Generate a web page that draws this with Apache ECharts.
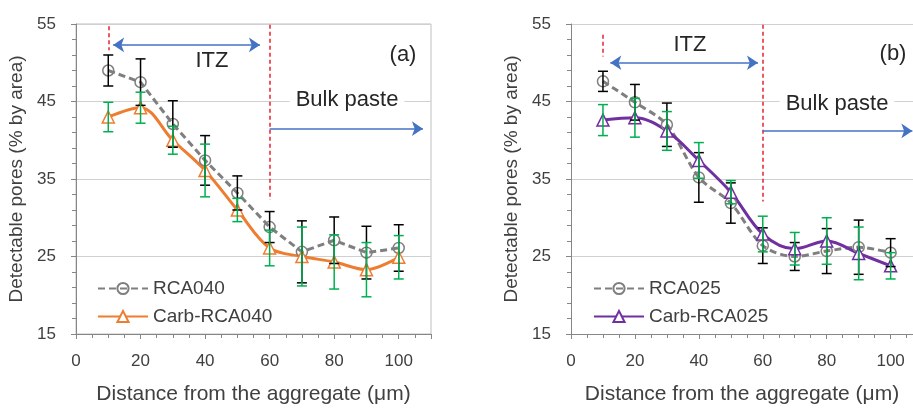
<!DOCTYPE html>
<html>
<head>
<meta charset="utf-8">
<script src="https://cdn.jsdelivr.net/npm/echarts@6/dist/echarts.min.js"></script>
<style>
html,body{margin:0;padding:0;background:#fff;overflow:hidden;}
#chart{width:913px;height:410px;}
</style>
</head>
<body>
<div id="chart"></div>
<script>
// ---- data ----
var distance = [10, 20, 30, 40, 50, 60, 70, 80, 90, 100];
var rca040 = [49.0, 47.5, 42.1, 37.4, 33.2, 28.8, 25.6, 27.1, 25.5, 26.1];
var rca040Err = [2.0, 3.0, 3.0, 3.2, 2.2, 2.0, 4.0, 3.0, 3.4, 3.0];
var carb040 = [43.0, 44.2, 40.0, 36.1, 31.0, 26.1, 25.0, 24.3, 23.3, 24.9];
var carb040Err = [1.9, 2.0, 1.8, 3.4, 1.5, 2.3, 3.8, 3.5, 3.5, 2.8];
var rca025 = [47.6, 44.9, 42.0, 35.2, 31.9, 26.4, 25.0, 25.7, 26.2, 25.5];
var rca025Err = [1.3, 2.3, 2.8, 3.2, 2.6, 2.3, 1.8, 2.9, 3.5, 1.8];
var carb025 = [42.6, 42.9, 41.2, 37.4, 33.3, 27.9, 26.0, 27.0, 25.4, 23.8];
var carb025Err = [2.0, 2.5, 2.5, 2.3, 1.5, 2.3, 2.1, 3.0, 3.4, 1.7];
var xTicks = [0, 20, 40, 60, 80, 100];
var yTicks = [15, 25, 35, 45, 55];

var FONT = '"Liberation Sans", Arial, sans-serif';
var GRAY = '#7f7f7f', ORANGE = '#ED7D31', PURPLE = '#7030A0', GREEN = '#00B050', BLUE = '#4472C4', RED = '#E8212E';

function pts(vals){ return distance.map(function(d,i){ return [d, vals[i]]; }); }
function errs(vals, e){ return distance.map(function(d,i){ return [d, vals[i]-e[i], vals[i]+e[i]]; }); }

function errSeries(name, vals, e, color, idx){
  return {
    type: 'custom', name: name + ' err', xAxisIndex: idx, yAxisIndex: idx, z: 4, silent: true,
    encode: {x: 0, y: [1, 2]},
    data: errs(vals, e),
    renderItem: function(params, api){
      var lo = api.coord([api.value(0), api.value(1)]);
      var hi = api.coord([api.value(0), api.value(2)]);
      var w = 5;
      var st = {stroke: color, lineWidth: 1.5};
      return {type: 'group', children: [
        {type: 'line', shape: {x1: lo[0], y1: lo[1], x2: hi[0], y2: hi[1]}, style: st},
        {type: 'line', shape: {x1: lo[0]-w, y1: lo[1], x2: lo[0]+w, y2: lo[1]}, style: st},
        {type: 'line', shape: {x1: hi[0]-w, y1: hi[1], x2: hi[0]+w, y2: hi[1]}, style: st}
      ]};
    }
  };
}

function seg(x1, y1, x2, y2, color, dashed, arrows){
  return [
    {coord: [x1, y1], symbol: arrows === 'both' ? 'arrow' : 'none', lineStyle: {color: color, type: dashed ? [4, 3] : 'solid', width: 1.5}},
    {coord: [x2, y2], symbol: arrows ? 'arrow' : 'none'}
  ];
}

function xAxis(idx, max){
  return {
    type: 'value', gridIndex: idx, min: 0, max: max, interval: 20,
    axisLine: {lineStyle: {color: '#868686', width: 1}},
    axisTick: {show: true, length: 5, lineStyle: {color: '#868686'}},
    minorTick: {show: true, splitNumber: 4, length: 4, lineStyle: {color: '#868686'}},
    splitLine: {show: false},
    axisLabel: {showMaxLabel: false, color: '#404040', fontSize: 17, fontFamily: FONT, margin: 19},
    name: 'Distance from the aggregate (\u03bcm)', nameLocation: 'middle', nameGap: 50,
    nameTextStyle: {color: '#404040', fontSize: 21, fontFamily: FONT}
  };
}
function yAxis(idx){
  return {
    type: 'value', gridIndex: idx, min: 15, max: 55, interval: 10,
    axisLine: {show: true, lineStyle: {color: '#868686', width: 1}},
    axisTick: {show: true, length: 5, lineStyle: {color: '#868686'}},
    minorTick: {show: true, splitNumber: 5, length: 4, lineStyle: {color: '#868686'}},
    splitLine: {show: true, lineStyle: {color: '#d0d0d0', width: 1}},
    axisLabel: {color: '#404040', fontSize: 17, fontFamily: FONT, margin: 20},
    name: 'Detectable pores (% by area)', nameLocation: 'middle', nameGap: 50,
    nameTextStyle: {color: '#404040', fontSize: 19, fontFamily: FONT}
  };
}

function txt(x, y, s){
  return {type: 'text', x: x, y: y, z: 10, style: {text: s, font: '22px ' + FONT, fill: '#262626', align: 'center', verticalAlign: 'middle',
    backgroundColor: '#fff', padding: [2, 6]}};
}

var option = {
  animation: false,
  backgroundColor: '#fff',
  grid: [
    {left: 76, top: 24, width: 355, height: 315, show: true, borderColor: '#bfbfbf', borderWidth: 1, backgroundColor: 'transparent'},
    {left: 571, top: 24, width: 342, height: 315, show: false}
  ],
  xAxis: [xAxis(0, 110), xAxis(1, 107)],
  yAxis: [yAxis(0), yAxis(1)],
  legend: [
    {data: ['RCA040', 'Carb-RCA040'], orient: 'vertical', left: 92, top: 274, itemWidth: 50, itemHeight: 14, itemGap: 9,
     textStyle: {color: '#404040', fontSize: 19, fontFamily: FONT}, selectedMode: false},
    {data: ['RCA025', 'Carb-RCA025'], orient: 'vertical', left: 588, top: 274, itemWidth: 50, itemHeight: 14, itemGap: 9,
     textStyle: {color: '#404040', fontSize: 19, fontFamily: FONT}, selectedMode: false}
  ],
  series: [
    {
      type: 'line', name: 'RCA040', xAxisIndex: 0, yAxisIndex: 0, data: pts(rca040), z: 3,
      lineStyle: {color: GRAY, width: 3, type: [7, 4]}, itemStyle: {color: 'rgba(255,255,255,0)', borderColor: GRAY, borderWidth: 1.5},
      symbol: 'circle', symbolSize: 11, showAllSymbol: true,
      markLine: {silent: true, symbolSize: [11, 11], label: {show: false}, animation: false,
        data: [
          seg(10, 54.7, 10, 51.6, RED, true, false),
          seg(60, 54.9, 60, 32.3, RED, true, false),
          seg(11.5, 52.3, 57, 52.3, BLUE, false, 'both'),
          seg(60, 41.5, 107.5, 41.5, BLUE, false, 'end')
        ]}
    },
    {
      type: 'line', name: 'Carb-RCA040', xAxisIndex: 0, yAxisIndex: 0, data: pts(carb040), smooth: 0.35, z: 3,
      lineStyle: {color: ORANGE, width: 3}, itemStyle: {color: '#fff', borderColor: ORANGE, borderWidth: 1.5},
      symbol: 'triangle', symbolSize: 12, showAllSymbol: true
    },
    errSeries('RCA040', rca040, rca040Err, '#000', 0),
    errSeries('Carb-RCA040', carb040, carb040Err, GREEN, 0),
    {
      type: 'line', name: 'RCA025', xAxisIndex: 1, yAxisIndex: 1, data: pts(rca025), smooth: 0.3, z: 3,
      lineStyle: {color: GRAY, width: 3, type: [7, 4]}, itemStyle: {color: 'rgba(255,255,255,0)', borderColor: GRAY, borderWidth: 1.5},
      symbol: 'circle', symbolSize: 11, showAllSymbol: true,
      markLine: {silent: true, symbolSize: [11, 11], label: {show: false}, animation: false,
        data: [
          seg(10, 53.6, 10, 50.8, RED, true, false),
          seg(60, 54.9, 60, 32.1, RED, true, false),
          seg(12.3, 50.0, 58.5, 50.0, BLUE, false, 'both'),
          seg(60, 41.2, 106.8, 41.2, BLUE, false, 'end')
        ]}
    },
    {
      type: 'line', name: 'Carb-RCA025', xAxisIndex: 1, yAxisIndex: 1, data: pts(carb025), smooth: 0.35, z: 3,
      lineStyle: {color: PURPLE, width: 3}, itemStyle: {color: '#fff', borderColor: PURPLE, borderWidth: 1.5},
      symbol: 'triangle', symbolSize: 12, showAllSymbol: true
    },
    errSeries('RCA025', rca025, rca025Err, '#000', 1),
    errSeries('Carb-RCA025', carb025, carb025Err, GREEN, 1)
  ],
  graphic: [
    txt(212, 61, 'ITZ'),
    txt(347, 100, 'Bulk paste'),
    txt(403, 55, '(a)'),
    txt(690, 45, 'ITZ'),
    txt(837, 104, 'Bulk paste'),
    txt(893, 54, '(b)')
  ]
};
var chart = echarts.init(document.getElementById('chart'), null, {renderer: 'canvas'});
chart.setOption(option);
</script>
</body>
</html>
